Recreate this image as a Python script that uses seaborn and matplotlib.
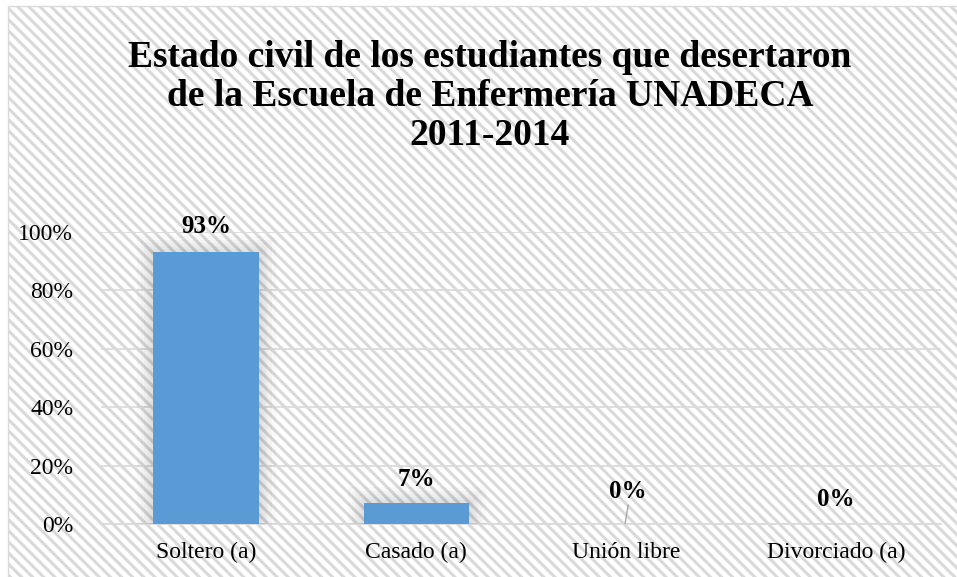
import pandas as pd
import matplotlib.pyplot as plt
import matplotlib.patches as mpatches
import matplotlib.patheffects as pe
import seaborn as sns
from matplotlib.ticker import PercentFormatter

# Chart data
categories = ["Soltero (a)", "Casado (a)", "Unión libre", "Divorciado (a)"]
percentages = [93, 7, 0, 0]
value_labels = ["93%", "7%", "0%", "0%"]
title_text = "Estado civil de los estudiantes que desertaron\nde la Escuela de Enfermería UNADECA\n2011-2014"

BAR_COLOR = "#5B9BD5"
GRID_COLOR = "#D9D9D9"


def main():
    df = pd.DataFrame({"Estado": categories, "Porcentaje": percentages})

    sns.set_theme(style="white")
    plt.rcParams["font.family"] = ["Liberation Serif", "DejaVu Serif"]
    plt.rcParams["hatch.color"] = "#F5F5F5"
    plt.rcParams["hatch.linewidth"] = 2.2

    fig = plt.figure(figsize=(9.57, 5.77), dpi=100)
    fig.patch.set_facecolor("white")

    # Hatched chart-area background with thin border (cut off at right/bottom)
    bg = mpatches.Rectangle((0.0085, -0.02), 1.0, 1.0096, transform=fig.transFigure,
                            facecolor="white", edgecolor="#D9D9D9", hatch="\\\\\\",
                            linewidth=1.0, zorder=-1)
    fig.patches.append(bg)

    ax = fig.add_axes([0.1055, 0.092, 0.878, 0.506], zorder=1)
    ax.patch.set_alpha(0)

    sns.barplot(data=df, x="Estado", y="Porcentaje", color=BAR_COLOR, width=0.5,
                saturation=1, ax=ax, zorder=3)

    # soft shadow around bars
    glow = [pe.Stroke(linewidth=w, foreground="#000000", alpha=0.022) for w in (24, 18, 13, 9, 5)]
    for bar in ax.patches:
        bar.set_linewidth(0)
        if bar.get_height() > 0:
            bar.set_path_effects(glow + [pe.Normal()])

    ax.set_xlim(-0.5, 3.5)
    ax.set_ylim(0, 100)
    ax.set_yticks([0, 20, 40, 60, 80, 100])
    ax.yaxis.set_major_formatter(PercentFormatter(decimals=0))
    ax.grid(axis="y", color=GRID_COLOR, linewidth=1.2, zorder=0)
    ax.set_axisbelow(True)
    for side in ["left", "right", "top"]:
        ax.spines[side].set_visible(False)
    ax.spines["bottom"].set_color(GRID_COLOR)
    ax.spines["bottom"].set_linewidth(1.2)
    ax.tick_params(axis="both", length=0, labelsize=17, colors="black")
    ax.tick_params(axis="x", pad=13)
    ax.tick_params(axis="y", pad=20)
    ax.set_xlabel("")
    ax.set_ylabel("")

    # Data labels (centre heights in data units)
    label_y = [101.7, 15.1, 11.0, 8.2]
    for i, lab in enumerate(value_labels):
        ax.text(i + (0.01 if i == 2 else 0), label_y[i], lab, ha="center", va="center",
                fontsize=18, fontweight="bold", color="black", zorder=5)
    # leader line for "Unión libre"
    ax.plot([1.995, 2.01], [0, 6.5], color="#A6A6A6", linewidth=1, zorder=4)

    fig.text(0.512, 0.833, title_text, ha="center", va="center", fontsize=27,
             fontweight="bold", color="black", linespacing=1.15)

    plt.savefig("out.png", dpi=100)


if __name__ == "__main__":
    main()
